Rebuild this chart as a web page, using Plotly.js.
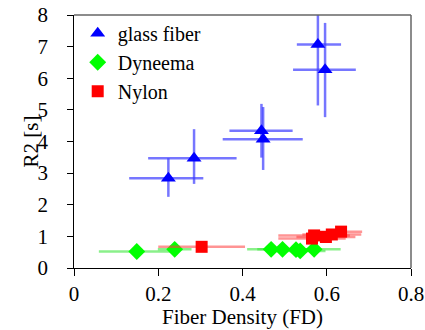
<!DOCTYPE html>
<html>
<head>
<meta charset="utf-8">
<script src="https://cdn.plot.ly/plotly-3.0.1.min.js"></script>
<style>
  html, body { margin: 0; padding: 0; background: #fff; }
  #chart { width: 425px; height: 330px; }
</style>
</head>
<body>
<div id="chart"></div>
<script>
// R2 relaxation time against fiber density for three fiber materials.
const glassFD      = [0.579, 0.596, 0.445, 0.449, 0.285, 0.224];
const glassR2      = [7.07, 6.27, 4.34, 4.07, 3.47, 2.84];
const glassFDPlus  = [0.055, 0.073, 0.074, 0.094, 0.101, 0.083];
const glassFDMinus = [0.050, 0.076, 0.076, 0.096, 0.109, 0.093];
const glassR2Plus  = [1.08, 1.48, 0.85, 1.02, 0.92, 0.63];
const glassR2Minus = [1.93, 1.50, 0.85, 0.97, 0.81, 0.59];

const dyneemaFD    = [0.149, 0.239, 0.468, 0.495, 0.527, 0.537, 0.570];
const dyneemaR2    = [0.52, 0.59, 0.59, 0.59, 0.58, 0.54, 0.59];
const dyneemaFDErr = [0.090, 0.040, 0.057, 0.060, 0.060, 0.060, 0.063];

const nylonFD      = [0.303, 0.565, 0.570, 0.598, 0.612, 0.634];
const nylonR2      = [0.67, 0.93, 1.03, 0.98, 1.06, 1.15];
const nylonFDErr   = [0.103, 0.080, 0.085, 0.070, 0.070, 0.050];

const xTicks = [0, 0.2, 0.4, 0.6, 0.8];
const yTicks = [0, 1, 2, 3, 4, 5, 6, 7, 8];

const xTitle = 'Fiber Density (FD)';
const yTitle = 'R2 [s]';

const serif = 'Liberation Serif';
const txt = (size) => ({ family: serif, size: size, color: '#000' });
// extra gap between the y tick labels and their ticks
const yLabelGap = '\u2002\u2009';

const traces = [
  {
    name: 'glass fiber', type: 'scatter', mode: 'markers',
    x: glassFD, y: glassR2,
    marker: { symbol: 'triangle-up', size: 13, color: '#0000ff' },
    error_x: { type: 'data', symmetric: false, array: glassFDPlus, arrayminus: glassFDMinus,
               color: 'rgba(60,60,255,0.7)', thickness: 2.5, width: 0 },
    error_y: { type: 'data', symmetric: false, array: glassR2Plus, arrayminus: glassR2Minus,
               color: 'rgba(60,60,255,0.7)', thickness: 2.5, width: 0 },
    cliponaxis: false
  },
  {
    name: 'Dyneema', type: 'scatter', mode: 'markers',
    x: dyneemaFD, y: dyneemaR2,
    marker: { symbol: 'diamond', size: 13, color: '#00ff00' },
    error_x: { type: 'data', array: dyneemaFDErr, color: 'rgba(60,230,60,0.6)', thickness: 2.5, width: 0 },
    cliponaxis: false
  },
  {
    name: 'Nylon', type: 'scatter', mode: 'markers',
    x: nylonFD, y: nylonR2,
    marker: { symbol: 'square', size: 12, color: '#ff0000' },
    error_x: { type: 'data', array: nylonFDErr, color: 'rgba(255,60,60,0.55)', thickness: 2.5, width: 0 },
    cliponaxis: false
  }
];

const layout = {
  width: 425, height: 330,
  margin: { l: 74, r: 14, t: 15, b: 62 },
  paper_bgcolor: '#fff', plot_bgcolor: '#fff',
  font: txt(21),
  showlegend: true,
  legend: {
    x: 0.011, y: 1.005, xanchor: 'left', yanchor: 'top',
    bgcolor: 'rgba(0,0,0,0)', borderwidth: 0,
    font: txt(20),
    itemwidth: 30, tracegroupgap: 0
  },
  xaxis: {
    range: [0, 0.8], tickvals: xTicks, ticktext: xTicks.map(String),
    showgrid: false, zeroline: false,
    showline: true, linecolor: '#000', linewidth: 1, mirror: false,
    ticks: 'outside', ticklen: 7, tickcolor: '#000', tickwidth: 1,
    tickfont: txt(21)
  },
  yaxis: {
    range: [0, 8], tickvals: yTicks, ticktext: yTicks.map(v => v + yLabelGap),
    showgrid: false, zeroline: false,
    showline: true, linecolor: '#000', linewidth: 1, mirror: false,
    ticks: 'outside', ticklen: 6, tickcolor: '#000', tickwidth: 1,
    tickfont: txt(21)
  },
  annotations: [
    { text: xTitle, xref: 'paper', yref: 'paper', x: 0.5, y: 0, yshift: -49,
      xanchor: 'center', yanchor: 'middle', showarrow: false, font: txt(21) },
    { text: yTitle, xref: 'paper', yref: 'paper', x: 0, y: 0.5, xshift: -44,
      xanchor: 'center', yanchor: 'middle', textangle: -90, showarrow: false, font: txt(21) }
  ],
  shapes: [
    { type: 'line', xref: 'paper', yref: 'paper', x0: 0, x1: 1, y0: 1, y1: 1,
      line: { color: '#666', width: 1.5 } },
    { type: 'line', xref: 'paper', yref: 'paper', x0: 1, x1: 1, y0: 0, y1: 1,
      line: { color: '#666', width: 1.5 } }
  ]
};

Plotly.newPlot('chart', traces, layout, { displayModeBar: false, staticPlot: true });
</script>
</body>
</html>
